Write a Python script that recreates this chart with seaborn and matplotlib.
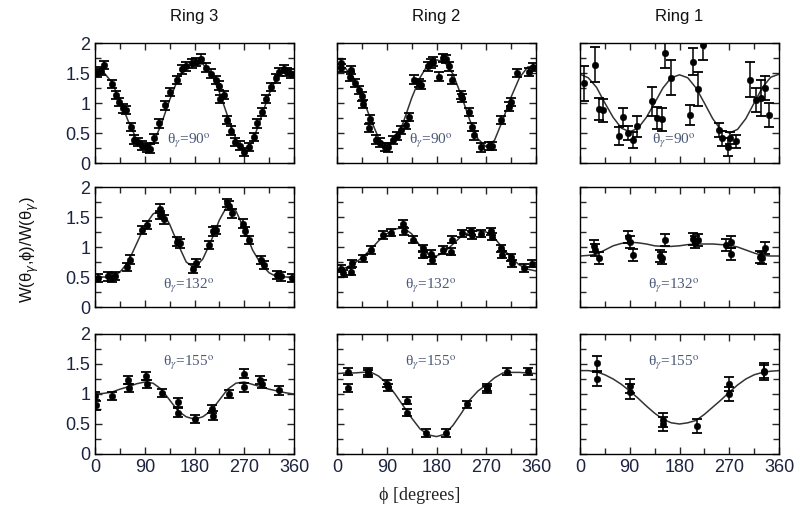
import seaborn as sns
import matplotlib.pyplot as plt
import matplotlib.ticker as mticker
import pandas as pd
import numpy as np

sns.set_style("ticks")
plt.rcParams['font.family'] = ['Liberation Sans', 'DejaVu Sans']

# column titles / row labels
rings = ["Ring 3", "Ring 2", "Ring 1"]
thetas = ["90", "132", "155"]

# fit curves, read every 15 degrees
curve_phi = list(range(0, 361, 15))
curve_r3_90 = [1.52, 1.52, 1.35, 1.05, 0.70, 0.40, 0.24, 0.32, 0.65, 1.05, 1.40, 1.60, 1.65,
               1.65, 1.50, 1.18, 0.78, 0.40, 0.20, 0.35, 0.75, 1.15, 1.45, 1.55, 1.52]
curve_r2_90 = [1.62, 1.58, 1.42, 1.12, 0.75, 0.42, 0.27, 0.36, 0.68, 1.08, 1.42, 1.65, 1.72,
               1.68, 1.48, 1.12, 0.72, 0.40, 0.27, 0.38, 0.72, 1.10, 1.42, 1.60, 1.62]
curve_r1_90 = [1.48, 1.42, 1.26, 1.00, 0.76, 0.58, 0.52, 0.58, 0.76, 1.00, 1.25, 1.42, 1.47,
               1.42, 1.25, 1.00, 0.74, 0.55, 0.50, 0.56, 0.74, 1.00, 1.26, 1.43, 1.48]
curve_r3_132 = [0.50, 0.50, 0.50, 0.58, 0.75, 1.05, 1.35, 1.55, 1.62, 1.38, 1.05, 0.75, 0.65,
                0.80, 1.10, 1.45, 1.70, 1.60, 1.30, 0.95, 0.72, 0.57, 0.50, 0.50, 0.50]
curve_r2_132 = [0.60, 0.65, 0.72, 0.82, 0.95, 1.10, 1.22, 1.30, 1.32, 1.22, 1.02, 0.88, 0.85,
                0.92, 1.05, 1.18, 1.25, 1.27, 1.25, 1.15, 0.98, 0.82, 0.70, 0.63, 0.60]
curve_r1_132 = [0.85, 0.86, 0.88, 0.95, 1.02, 1.06, 1.08, 1.07, 1.05, 1.02, 1.01, 1.01, 1.02,
                1.04, 1.05, 1.05, 1.05, 1.04, 1.03, 1.00, 0.95, 0.90, 0.86, 0.85, 0.85]
curve_r3_155 = [1.00, 1.01, 1.03, 1.08, 1.12, 1.17, 1.20, 1.18, 1.08, 0.90, 0.72, 0.62, 0.58,
                0.62, 0.72, 0.90, 1.08, 1.18, 1.20, 1.16, 1.12, 1.08, 1.05, 1.02, 1.00]
curve_r2_155 = [1.34, 1.35, 1.35, 1.36, 1.37, 1.30, 1.18, 1.00, 0.80, 0.60, 0.42, 0.32, 0.29,
                0.33, 0.48, 0.68, 0.90, 1.05, 1.15, 1.27, 1.35, 1.36, 1.36, 1.35, 1.34]
curve_r1_155 = [1.39, 1.39, 1.37, 1.32, 1.25, 1.16, 1.05, 0.93, 0.80, 0.68, 0.58, 0.52, 0.50,
                0.52, 0.56, 0.66, 0.78, 0.90, 1.03, 1.15, 1.25, 1.32, 1.36, 1.38, 1.39]

# measured points
phi_r3_90 = [3, 10, 16, 30, 38, 44, 51, 56, 65, 70, 77, 85, 94, 100, 106, 116, 127, 136, 148, 157,
             165, 175, 183, 192, 200, 209, 218, 224, 227, 233, 239, 246, 254, 262, 269, 278, 287,
             293, 302, 309, 318, 327, 333, 342, 347, 354]
w_r3_90 = [1.50, 1.53, 1.63, 1.32, 1.13, 1.02, 0.91, 0.88, 0.60, 0.39, 0.35, 0.29, 0.26, 0.24, 0.41,
           0.66, 0.96, 1.18, 1.38, 1.56, 1.61, 1.66, 1.68, 1.74, 1.59, 1.49, 1.38, 1.29, 1.07, 1.13,
           0.72, 0.54, 0.35, 0.29, 0.18, 0.27, 0.43, 0.66, 0.85, 1.07, 1.27, 1.41, 1.52, 1.57, 1.52,
           1.49]
phi_r2_90 = [7, 8, 25, 23, 32, 40, 46, 47, 59, 58, 70, 77, 86, 92, 101, 109, 116, 124, 131, 140, 149,
             152, 164, 170, 173, 184, 191, 197, 202, 208, 224, 227, 239, 244, 248, 260, 275, 281,
             296, 311, 314, 326, 347, 354]
w_r2_90 = [1.66, 1.58, 1.55, 1.44, 1.33, 1.22, 1.11, 0.98, 0.73, 0.58, 0.39, 0.34, 0.27, 0.26, 0.38,
           0.45, 0.55, 0.63, 0.77, 1.39, 1.33, 1.30, 1.61, 1.66, 1.69, 1.44, 1.75, 1.73, 1.61, 1.39,
           1.13, 1.08, 0.85, 0.60, 0.46, 0.26, 0.28, 0.28, 0.72, 0.94, 1.02, 1.50, 1.52, 1.60]
phi_r1_90 = [8, 27, 34, 42, 70, 78, 87, 95, 104, 130, 139, 148, 154, 164, 199, 205, 214, 223, 252,
             256, 268, 271, 283, 308, 318, 327, 335, 342]
w_r1_90 = [1.33, 1.64, 0.90, 0.88, 0.45, 0.76, 0.50, 0.38, 0.61, 1.03, 0.75, 0.73, 1.83, 1.42, 0.80,
           1.69, 1.23, 1.97, 0.55, 0.41, 0.26, 0.41, 0.36, 1.39, 1.05, 1.08, 1.25, 0.80]
err_r1_90 = [0.29, 0.29, 0.19, 0.19, 0.15, 0.15, 0.12, 0.13, 0.17, 0.24, 0.19, 0.19, 0.25, 0.29, 0.17,
             0.22, 0.28, 0.25, 0.12, 0.12, 0.15, 0.10, 0.11, 0.29, 0.20, 0.30, 0.20, 0.20]

phi_r3_132 = [6, 24, 30, 36, 57, 64, 85, 94, 117, 118, 124, 148, 154, 178, 182, 206, 213, 218, 239,
              242, 248, 268, 272, 278, 300, 306, 330, 336, 357]
w_r3_132 = [0.48, 0.51, 0.49, 0.52, 0.67, 0.79, 1.28, 1.37, 1.64, 1.53, 1.46, 1.09, 1.06, 0.64, 0.73,
            1.03, 1.26, 1.28, 1.73, 1.69, 1.56, 1.39, 1.26, 1.12, 0.78, 0.70, 0.53, 0.51, 0.48]
phi_r2_132 = [8, 11, 28, 26, 47, 62, 83, 98, 119, 121, 137, 155, 155, 170, 172, 191, 206, 208, 227,
              242, 244, 260, 278, 281, 296, 299, 314, 316, 338, 352]
w_r2_132 = [0.64, 0.56, 0.73, 0.59, 0.81, 0.95, 1.20, 1.24, 1.39, 1.26, 1.12, 0.98, 0.87, 0.89, 0.78,
            0.95, 0.92, 1.12, 1.23, 1.26, 1.20, 1.22, 1.26, 1.17, 0.98, 0.87, 0.83, 0.73, 0.65, 0.72]
phi_r1_132 = [25, 27, 34, 87, 90, 95, 144, 148, 154, 205, 208, 214, 265, 274, 274, 326, 329, 335]
w_r1_132 = [1.01, 0.95, 0.81, 1.17, 1.09, 0.87, 0.85, 0.81, 1.12, 1.14, 1.09, 1.12, 1.03, 1.09, 0.89,
            0.84, 0.81, 0.98]

phi_r3_155 = [0, 2, 30, 60, 62, 93, 94, 121, 150, 151, 181, 212, 213, 242, 269, 270, 299, 302, 333]
w_r3_155 = [0.97, 0.81, 0.97, 1.23, 1.10, 1.30, 1.17, 1.02, 0.86, 0.69, 0.58, 0.75, 0.64, 1.00, 1.34,
            1.11, 1.23, 1.17, 1.06]
phi_r2_155 = [20, 20, 56, 56, 91, 92, 127, 127, 161, 197, 235, 271, 272, 307, 345]
w_r2_155 = [1.37, 1.10, 1.38, 1.34, 1.17, 1.11, 0.89, 0.69, 0.35, 0.35, 0.83, 1.11, 1.08, 1.37, 1.38]
phi_r1_155 = [30, 30, 90, 90, 151, 151, 211, 270, 270, 332, 332]
w_r1_155 = [1.51, 1.25, 1.13, 1.04, 0.57, 0.50, 0.47, 1.17, 1.00, 1.39, 1.36]

panels = [
    [(phi_r3_90, w_r3_90, 0.07, curve_r3_90), (phi_r2_90, w_r2_90, 0.07, curve_r2_90),
     (phi_r1_90, w_r1_90, err_r1_90, curve_r1_90)],
    [(phi_r3_132, w_r3_132, 0.07, curve_r3_132), (phi_r2_132, w_r2_132, 0.06, curve_r2_132),
     (phi_r1_132, w_r1_132, 0.10, curve_r1_132)],
    [(phi_r3_155, w_r3_155, 0.07, curve_r3_155), (phi_r2_155, w_r2_155, 0.06, curve_r2_155),
     (phi_r1_155, w_r1_155, 0.12, curve_r1_155)],
]
label_y = [0.38, 0.36, 1.53]

tick_col = "#1c2340"
note_col = "#4b5878"
serif = ["Liberation Serif", "DejaVu Serif"]

fig = plt.figure(figsize=(8.1, 5.15), dpi=100)
W, H = 810, 515
col_left = [95, 337, 580]
row_top = [43, 187, 334]
aw, ah = 199, 120

for r in range(3):
    for c in range(3):
        ax = fig.add_axes([col_left[c] / W, 1 - (row_top[r] + ah) / H, aw / W, ah / H])
        phi, w, err, curve = panels[r][c]
        sns.lineplot(x=curve_phi, y=curve, ax=ax, color="#333333", lw=1.1)
        ax.errorbar(phi, w, yerr=err, fmt="none", ecolor="black", elinewidth=1.1,
                    capsize=3.8, capthick=1.3)
        sns.scatterplot(x=phi, y=w, ax=ax, color="black", s=22, edgecolor="black", zorder=3)
        ax.set_xlim(0, 360)
        ax.set_ylim(0, 2)
        ax.xaxis.set_major_locator(mticker.MultipleLocator(90))
        ax.xaxis.set_minor_locator(mticker.MultipleLocator(45))
        ax.yaxis.set_major_locator(mticker.MultipleLocator(0.5))
        ax.yaxis.set_minor_locator(mticker.MultipleLocator(0.25))
        ax.tick_params(which="both", direction="in", top=True, right=True,
                       labelsize=13, labelcolor=tick_col, width=1.0)
        ax.tick_params(which="major", length=5)
        ax.tick_params(which="minor", length=4)
        ax.yaxis.set_major_formatter(mticker.FuncFormatter(lambda v, p: f"{v:g}"))
        ax.set_xlabel("")
        ax.set_ylabel("")
        if c != 0:
            ax.set_yticklabels([])
        if r != 2:
            ax.set_xticklabels([])
        for s in ax.spines.values():
            s.set_linewidth(1.0)
            s.set_color("black")
        ax.text(170, label_y[r], "θ" + r"$_\gamma$=" + thetas[r] + r"$^{\rm o}$",
                ha="center", va="center", fontsize=11, color=note_col,
                family=serif, math_fontfamily="stix")
        if r == 0:
            ax.set_title(rings[c], fontsize=12, pad=16, color="#111111")

fig.text(30 / W, 1 - 250 / H, "W(θ" + r"$_\gamma$" + ",ϕ)/W(θ" + r"$_\gamma$" + ")", rotation=90,
         ha="center", va="center", fontsize=12, color="#111111", math_fontfamily="dejavusans")
fig.text(420 / W, 1 - 495 / H, "ϕ [degrees]", ha="center", va="center", fontsize=13,
         color="#222222", family=serif)

plt.savefig("out.png", dpi=100)
